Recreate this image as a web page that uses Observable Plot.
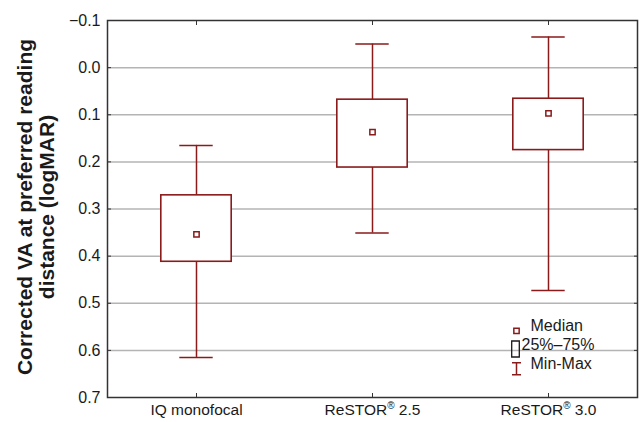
<!DOCTYPE html>
<html>
<head>
<meta charset="utf-8">
<script src="https://cdn.jsdelivr.net/npm/d3@7"></script>
<script src="https://cdn.jsdelivr.net/npm/@observablehq/plot@0.6"></script>
<style>
  html, body { margin: 0; padding: 0; background: white; }
</style>
</head>
<body>
<div id="chart"></div>
<script>
// ---- data ----
const groups = ["IQ monofocal", "ReSTOR® 2.5", "ReSTOR® 3.0"];
const whiskerTop = [0.165, -0.05, -0.065];
const boxTop = [0.271, 0.068, 0.066];
const medians = [0.354, 0.137, 0.097];
const boxBottom = [0.412, 0.212, 0.175];
const whiskerBottom = [0.615, 0.351, 0.473];
const yTicks = [-0.1, 0, 0.1, 0.2, 0.3, 0.4, 0.5, 0.6, 0.7];
const legendLabels = ["Median", "25%–75%", "Min-Max"];
const yTitle = "Corrected VA at preferred reading\ndistance (logMAR)";

const table = groups.map((g, i) => ({
  group: g, hi: whiskerTop[i], q1: boxTop[i], med: medians[i], q3: boxBottom[i], lo: whiskerBottom[i]
}));

const RED = "#8b1a1a";
const INK = "#1a1a1a";

const boxSymbol = { draw(ctx) { ctx.rect(-3.8, -8, 7.6, 16); } };
const whiskerSymbol = { draw(ctx) {
  ctx.moveTo(-4.5, -6); ctx.lineTo(4.5, -6);
  ctx.moveTo(0, -6); ctx.lineTo(0, 6);
  ctx.moveTo(-4.5, 6); ctx.lineTo(4.5, 6);
} };

const chart = Plot.plot({
  width: 641,
  height: 422,
  marginLeft: 107,
  marginRight: 4,
  marginTop: 20,
  marginBottom: 25,
  style: { fontFamily: "'Liberation Sans', Arial, sans-serif", fontSize: "15px", color: INK, background: "white" },
  x: { type: "band", domain: groups, padding: 0, label: null },
  y: { domain: [-0.1, 0.7], reverse: true, label: null },
  marks: [
    Plot.ruleY(yTicks.slice(1, -1), { stroke: "#b4b4b4", strokeWidth: 1.5 }),
    // whiskers
    Plot.ruleX(table, { x: "group", y1: "hi", y2: "q1", stroke: RED, strokeWidth: 1.5 }),
    Plot.ruleX(table, { x: "group", y1: "q3", y2: "lo", stroke: RED, strokeWidth: 1.5 }),
    Plot.tickY(table, { x: "group", y: "hi", stroke: RED, strokeWidth: 1.5, insetLeft: 71.3, insetRight: 71.3 }),
    Plot.tickY(table, { x: "group", y: "lo", stroke: RED, strokeWidth: 1.5, insetLeft: 71.3, insetRight: 71.3 }),
    // boxes
    Plot.barY(table, { x: "group", y1: "q1", y2: "q3", fill: "white", stroke: RED, strokeWidth: 1.6,
      insetLeft: 52.8, insetRight: 52.8 }),
    // medians
    Plot.dot(table, { x: "group", y: "med", symbol: "square", r: 3, fill: "white", stroke: RED, strokeWidth: 1.5 }),
    // axes: labels
    Plot.axisY({ ticks: yTicks, tickSize: 0, tickPadding: 7, tickFormat: d3.format(".1f"), label: null, fontSize: 16 }),
    Plot.axisX({ anchor: "bottom", tickSize: 0, tickPadding: 6, label: null, fontSize: 15.5 }),
    // inward ticks
    Plot.axisY({ anchor: "left", ticks: yTicks, tickSize: -4, tickFormat: () => "", label: null, stroke: "#333" }),
    Plot.axisY({ anchor: "right", ticks: yTicks, tickSize: -4, tickFormat: () => "", label: null, stroke: "#333" }),
    Plot.axisX({ anchor: "bottom", tickSize: -4, tickFormat: () => "", label: null, stroke: "#333" }),
    Plot.axisX({ anchor: "top", tickSize: -4, tickFormat: () => "", label: null, stroke: "#333" }),
    Plot.frame({ stroke: "#333", strokeWidth: 1.5 }),
    // y title
    Plot.text([yTitle], { text: d => d, frameAnchor: "left", rotate: -90, dx: -72, dy: -2,
      fontWeight: "bold", fontSize: 21, lineHeight: 1.05, textAnchor: "middle", fill: INK }),
    // legend
    Plot.dot([legendLabels[0]], { frameAnchor: "bottom-right", dx: -121, dy: -66.7, symbol: "square", r: 3,
      fill: "white", stroke: RED, strokeWidth: 1.5 }),
    Plot.dot([legendLabels[1]], { frameAnchor: "bottom-right", dx: -122, dy: -48.5, symbol: boxSymbol,
      fill: "none", stroke: INK, strokeWidth: 1.3 }),
    Plot.dot([legendLabels[2]], { frameAnchor: "bottom-right", dx: -121, dy: -28.7, symbol: whiskerSymbol,
      fill: "none", stroke: RED, strokeWidth: 1.5 }),
    Plot.text([legendLabels[0]], { text: d => d, frameAnchor: "bottom-right", dx: -107, dy: -66.7, textAnchor: "start", fontSize: 16, fill: INK }),
    Plot.text([legendLabels[1]], { text: d => d, frameAnchor: "bottom-right", dx: -116, dy: -48, textAnchor: "start", fontSize: 16, fill: INK }),
    Plot.text([legendLabels[2]], { text: d => d, frameAnchor: "bottom-right", dx: -107, dy: -28.7, textAnchor: "start", fontSize: 16, fill: INK })
  ]
});

// superscript the registered sign in category labels
chart.querySelectorAll("text").forEach(t => {
  const s = t.textContent;
  if (!s.includes("®")) return;
  const [a, b] = s.split("®");
  t.textContent = "";
  const ns = "http://www.w3.org/2000/svg";
  const t1 = document.createElementNS(ns, "tspan"); t1.textContent = a;
  const t2 = document.createElementNS(ns, "tspan"); t2.textContent = "®";
  t2.setAttribute("font-size", "10px"); t2.setAttribute("dy", "-6");
  const t3 = document.createElementNS(ns, "tspan"); t3.textContent = b;
  t3.setAttribute("dy", "6");
  t.append(t1, t2, t3);
});

document.getElementById("chart").appendChild(chart);
</script>
</body>
</html>
